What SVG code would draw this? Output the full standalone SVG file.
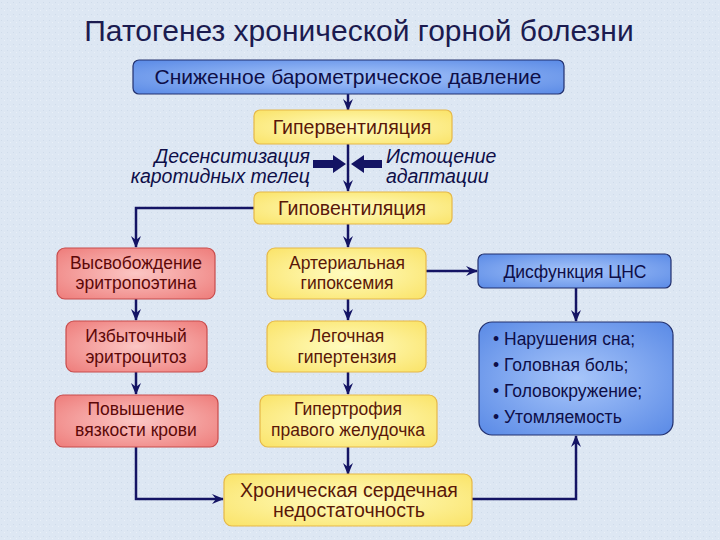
<svg xmlns="http://www.w3.org/2000/svg" width="720" height="540" viewBox="0 0 720 540">
<defs>
<radialGradient id="gBlue" cx="0.5" cy="0.5" r="0.7">
<stop offset="0" stop-color="#a8c6fa"/>
<stop offset="1" stop-color="#5a8ae6"/>
</radialGradient>
<radialGradient id="gRed" cx="0.5" cy="0.5" r="0.7">
<stop offset="0" stop-color="#fbc6c4"/>
<stop offset="1" stop-color="#ee7c7a"/>
</radialGradient>
<radialGradient id="gYel" cx="0.5" cy="0.5" r="0.7">
<stop offset="0" stop-color="#fffcc0"/>
<stop offset="1" stop-color="#fae368"/>
</radialGradient>
<marker id="ah" viewBox="0 0 12 12" refX="11" refY="6" markerWidth="12" markerHeight="12" markerUnits="userSpaceOnUse" orient="auto">
<path d="M0,1 L12,6 L0,11 L4,6 z" fill="#141464"/>
</marker>
<pattern id="tex" width="6" height="6" patternUnits="userSpaceOnUse">
<rect width="6" height="6" fill="#dde7f3"/>
<rect x="1" y="2" width="1" height="1" fill="#cfdbea"/>
<rect x="4" y="4" width="1" height="1" fill="#e9f0f8"/>
</pattern>
</defs>
<style>
.t{font-family:"Liberation Sans",Arial,sans-serif;text-anchor:middle}
.bl{fill:url(#gBlue);stroke:#22306e;stroke-width:1.2}
.rd{fill:url(#gRed);stroke:#c84c4c;stroke-width:1.2}
.yl{fill:url(#gYel);stroke:#e6b848;stroke-width:1.2}
.tb{fill:#0e0e48}
.tr{fill:#5c0808}
.ty{fill:#5a1808}
.c{fill:none;stroke:#141464;stroke-width:2.5;marker-end:url(#ah)}
.it{font-family:"Liberation Sans",Arial,sans-serif;font-style:italic;font-size:19.5px;fill:#0e0e48}
</style>
<rect width="720" height="540" fill="url(#tex)"/>
<text class="t" x="359" y="41" font-size="30" fill="#1b1b50">Патогенез хронической горной болезни</text>

<g id="connectors">
<path class="c" d="M348,94 V110"/>
<path class="c" d="M348,144 V191"/>
<path class="c" d="M254,208 H136 V247"/>
<path class="c" d="M348,224 V247"/>
<path class="c" d="M136,299 V320"/>
<path class="c" d="M136,372 V394"/>
<path class="c" d="M348,299 V320"/>
<path class="c" d="M348,372 V394"/>
<path class="c" d="M348,447 V474"/>
<path class="c" d="M426,271 H477"/>
<path class="c" d="M576,288 V321"/>
<path class="c" d="M136,447 V499 H223"/>
<path class="c" d="M472,499 H576 V436"/>
<path d="M313,160 H333 V155 L346,164 L333,173 V168 H313 z" fill="#141464"/>
<path d="M382,160 H364 V155 L351,164 L364,173 V168 H382 z" fill="#141464"/>
</g>

<g id="n_pressure">
<rect class="bl" x="133" y="60" width="431" height="34" rx="6"/>
<text class="t tb" x="348" y="84" font-size="21">Сниженное барометрическое давление</text>
</g>
<g id="n_hyperv">
<rect class="yl" x="254" y="110" width="198" height="34" rx="6"/>
<text class="t ty" x="352" y="134" font-size="19.5">Гипервентиляция</text>
</g>
<g id="n_desens">
<text class="it" x="310" y="163" text-anchor="end">Десенситизация</text>
<text class="it" x="310" y="183" text-anchor="end">каротидных телец</text>
</g>
<g id="n_exhaust">
<text class="it" x="386" y="163">Истощение</text>
<text class="it" x="386" y="183">адаптации</text>
</g>
<g id="n_hypov">
<rect class="yl" x="254" y="192" width="198" height="32" rx="6"/>
<text class="t ty" x="352" y="215" font-size="19.5">Гиповентиляция</text>
</g>
<g id="n_epo">
<rect class="rd" x="57" y="248" width="158" height="51" rx="8"/>
<text class="t tr" x="136" y="269" font-size="17.5">Высвобождение</text>
<text class="t tr" x="136" y="289" font-size="17.5">эритропоэтина</text>
</g>
<g id="n_erythro">
<rect class="rd" x="66" y="321" width="141" height="51" rx="8"/>
<text class="t tr" x="136" y="342" font-size="17.5">Избыточный</text>
<text class="t tr" x="136" y="363" font-size="17.5">эритроцитоз</text>
</g>
<g id="n_visc">
<rect class="rd" x="55" y="395" width="163" height="52" rx="8"/>
<text class="t tr" x="136" y="415" font-size="17.5">Повышение</text>
<text class="t tr" x="136" y="436" font-size="17.5">вязкости крови</text>
</g>
<g id="n_hypox">
<rect class="yl" x="267" y="248" width="159" height="51" rx="8"/>
<text class="t ty" x="347" y="269" font-size="17.5">Артериальная</text>
<text class="t ty" x="347" y="289" font-size="17.5">гипоксемия</text>
</g>
<g id="n_pulm">
<rect class="yl" x="267" y="321" width="159" height="51" rx="8"/>
<text class="t ty" x="347" y="342" font-size="17.5">Легочная</text>
<text class="t ty" x="347" y="363" font-size="17.5">гипертензия</text>
</g>
<g id="n_hypertr">
<rect class="yl" x="260" y="395" width="177" height="52" rx="8"/>
<text class="t ty" x="348" y="415" font-size="17.5">Гипертрофия</text>
<text class="t ty" x="348" y="436" font-size="17.5">правого желудочка</text>
</g>
<g id="n_chf">
<rect class="yl" x="224" y="474" width="248" height="52" rx="8"/>
<text class="t ty" x="349" y="497" font-size="19.5">Хроническая сердечная</text>
<text class="t ty" x="349" y="517" font-size="19.5">недостаточность</text>
</g>
<g id="n_cns">
<rect class="bl" x="478" y="254" width="193" height="34" rx="6"/>
<text class="t tb" x="575" y="278" font-size="17.5">Дисфункция ЦНС</text>
</g>
<g id="n_symptoms">
<rect class="bl" x="479" y="322" width="194" height="113" rx="13"/>
<g font-family="Liberation Sans,Arial,sans-serif" font-size="17.5" class="tb">
<text x="493" y="345">• Нарушения сна;</text>
<text x="493" y="371">• Головная боль;</text>
<text x="493" y="397">• Головокружение;</text>
<text x="493" y="423">• Утомляемость</text>
</g>
</g>
</svg>
